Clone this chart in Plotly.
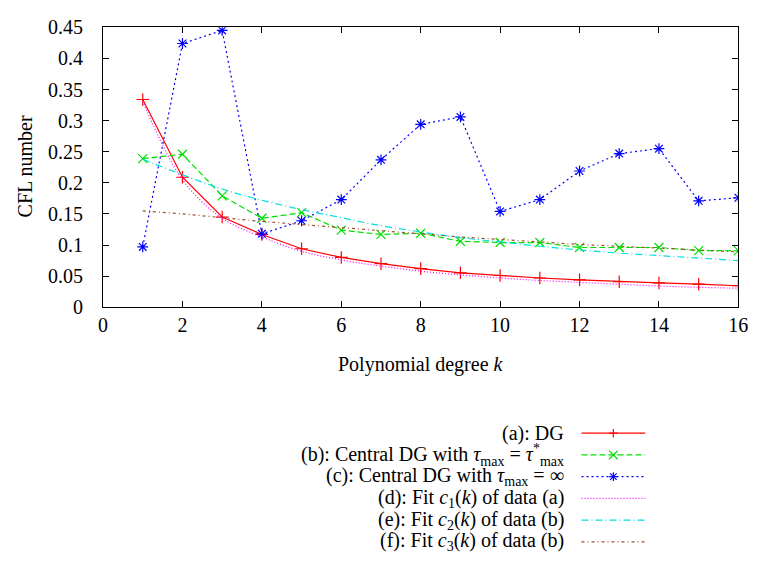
import plotly.graph_objects as go

W, H = 767, 575
# plot box in pixels
PL, PR, PT, PB = 100, 748, 17, 308

k = list(range(1, 17))
dg = [0.334, 0.209, 0.145, 0.117, 0.094, 0.080, 0.070, 0.062, 0.0553, 0.051,
      0.047, 0.044, 0.041, 0.039, 0.037, 0.0345]
cdg_star = [0.239, 0.246, 0.179, 0.143, 0.152, 0.124, 0.117, 0.119, 0.106, 0.104,
            0.104, 0.096, 0.096, 0.096, 0.091, 0.091]
cdg_inf = [0.097, 0.424, 0.445, 0.118, 0.139, 0.173, 0.237, 0.294, 0.306, 0.154,
           0.173, 0.219, 0.247, 0.255, 0.171, 0.176]
fit_c1 = [0.331, 0.205, 0.143, 0.113, 0.090, 0.076, 0.066, 0.058, 0.052, 0.047,
          0.043, 0.040, 0.037, 0.034, 0.032, 0.0305]
fit_c2 = [0.238, 0.213, 0.190, 0.172, 0.157, 0.144, 0.131, 0.121, 0.112, 0.105,
          0.098, 0.092, 0.087, 0.083, 0.079, 0.075]
fit_c3 = [0.155, 0.150, 0.144, 0.138, 0.133, 0.128, 0.123, 0.118, 0.113, 0.109,
          0.105, 0.101, 0.098, 0.095, 0.092, 0.089]

x_ticks = list(range(0, 17, 2))
y_ticks = [0, 0.05, 0.1, 0.15, 0.2, 0.25, 0.3, 0.35, 0.4, 0.45]
y_tick_text = ["0", "0.05", "0.1", "0.15", "0.2", "0.25", "0.3", "0.35", "0.4", "0.45"]

labels = [
    "(a): DG",
    "(b): Central DG with <i>τ</i><sub>max</sub> = <i>τ</i><sup>*</sup><sub>max</sub>",
    "(c): Central DG with <i>τ</i><sub>max</sub> = ∞",
    "(d): Fit <i>c</i><sub>1</sub>(<i>k</i>) of data (a)",
    "(e): Fit <i>c</i><sub>2</sub>(<i>k</i>) of data (b)",
    "(f): Fit <i>c</i><sub>3</sub>(<i>k</i>) of data (b)",
]

FONT = "serif"
FS = 20

styles = [
    dict(color="#ff0000", dash="solid", symbol="cross-thin-open", mode="lines+markers", glyph="+"),
    dict(color="#00e000", dash="6px,3px", symbol="x-thin-open", mode="lines+markers", glyph="x"),
    dict(color="#0000ff", dash="2px,3px", symbol="asterisk-open", mode="lines+markers", glyph="*"),
    dict(color="#ff00ff", dash="1px,2px", symbol=None, mode="lines", glyph=None),
    dict(color="#00e0e0", dash="7px,3px,1px,3px", symbol=None, mode="lines", glyph=None),
    dict(color="#a0522d", dash="3px,3px,1px,3px", symbol=None, mode="lines", glyph=None),
]
series = [dg, cdg_star, cdg_inf, fit_c1, fit_c2, fit_c3]

fig = go.Figure()
for ys, st in zip(series, styles):
    tr = dict(x=k, y=ys, mode=st["mode"],
              line=dict(color=st["color"], width=1.2, dash=st["dash"],
                        shape="spline" if st["symbol"] is None else "linear"),
              showlegend=False, hoverinfo="skip")
    if st["symbol"]:
        tr["marker"] = dict(symbol=st["symbol"], size=9, color=st["color"],
                            line=dict(color=st["color"], width=1.2))
    fig.add_trace(go.Scatter(**tr))


def pxx(x):
    return x / W


def pxy(y):
    return 1 - y / H


# key: text on the left (right-aligned), line sample on the right
ROW0, DROW = 439, 22.6
LX0, LX1 = 588, 653
shapes = []
annotations = []
for i, (lab, st) in enumerate(zip(labels, styles)):
    py = ROW0 + DROW * i
    annotations.append(dict(text=lab, xref="paper", yref="paper",
                            x=pxx(572), y=pxy(py), xanchor="right", yanchor="middle",
                            showarrow=False, font=dict(family=FONT, size=FS, color="black")))
    shapes.append(dict(type="line", xref="paper", yref="paper",
                       x0=pxx(LX0), x1=pxx(LX1), y0=pxy(py), y1=pxy(py),
                       line=dict(color=st["color"], width=1.2, dash=st["dash"])))
    cx, r = (LX0 + LX1) / 2, 4.5
    segs = []
    if st["glyph"] in ("+", "*"):
        segs += [(cx - r, py, cx + r, py), (cx, py - r, cx, py + r)]
    if st["glyph"] in ("x", "*"):
        d = r * (0.75 if st["glyph"] == "*" else 1.0)
        segs += [(cx - d, py - d, cx + d, py + d), (cx - d, py + d, cx + d, py - d)]
    for (x0, y0, x1, y1) in segs:
        shapes.append(dict(type="line", xref="paper", yref="paper",
                           x0=pxx(x0), x1=pxx(x1), y0=pxy(y0), y1=pxy(y1),
                           line=dict(color=st["color"], width=1.2)))

# axis titles
annotations.append(dict(text="Polynomial degree <i>k</i>", xref="paper", yref="paper",
                        x=pxx((PL + PR) / 2), y=pxy(368), xanchor="center", yanchor="middle",
                        showarrow=False, font=dict(family=FONT, size=FS, color="black")))
annotations.append(dict(text="CFL number", xref="paper", yref="paper", textangle=-90,
                        x=pxx(20), y=pxy(162), xanchor="center", yanchor="middle",
                        showarrow=False, font=dict(family=FONT, size=FS, color="black")))

axis_common = dict(showline=True, linecolor="black", linewidth=1, mirror="ticks",
                   ticks="inside", ticklen=6, tickcolor="black", tickwidth=1,
                   showgrid=False, zeroline=False,
                   tickfont=dict(family=FONT, size=FS, color="black"))

fig.update_layout(
    width=W, height=H,
    margin=dict(l=0, r=0, t=0, b=0),
    paper_bgcolor="white", plot_bgcolor="white",
    font=dict(family=FONT, size=FS, color="black"),
    xaxis=dict(domain=[PL / W, PR / W], range=[0, 16], tickvals=x_ticks,
               ticktext=[str(t) for t in x_ticks], **axis_common),
    yaxis=dict(domain=[1 - PB / H, 1 - PT / H], range=[0, 0.45], tickvals=y_ticks,
               ticktext=[t + "   " for t in y_tick_text], **axis_common),
    annotations=annotations,
    shapes=shapes,
    showlegend=False,
)

fig.write_html("out.html")
